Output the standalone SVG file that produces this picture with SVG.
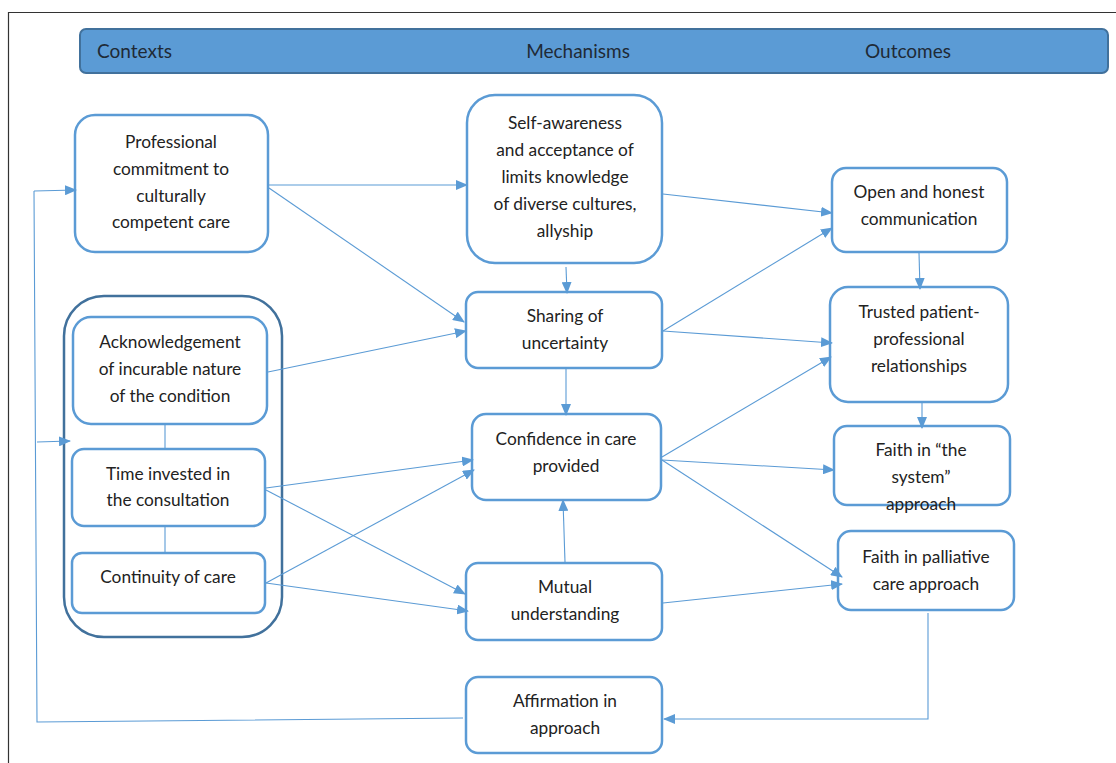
<svg xmlns="http://www.w3.org/2000/svg" width="1116" height="763" viewBox="0 0 1116 763">
<defs>
<marker id="ah" markerWidth="12" markerHeight="10" refX="11" refY="5" orient="auto" markerUnits="userSpaceOnUse">
<path d="M0,0 L12,5 L0,10 Z" fill="#5b9bd5"/>
</marker>
<style>
.box{fill:#fff;stroke:#5b9bd5;stroke-width:2.5}
.grp{fill:#fff;stroke:#41719c;stroke-width:2.5}
.t{font-family:Lato,"Liberation Sans",sans-serif;font-size:17.3px;fill:#222;text-anchor:middle}
.h{font-family:Lato,"Liberation Sans",sans-serif;font-size:19px;fill:#1f2a36}
.c{fill:none;stroke:#5b9bd5;stroke-width:1.1}
.ca{fill:none;stroke:#5b9bd5;stroke-width:1.1;marker-end:url(#ah)}
</style>
</defs>
<rect width="1116" height="763" fill="#fff"/>
<path d="M8.5,763 V12.5 H1116" fill="none" stroke="#333" stroke-width="1.2"/>

<g id="header">
<rect x="80" y="29" width="1028" height="44" rx="6" fill="#5b9bd5" stroke="#41719c" stroke-width="2"/>
<text class="h" x="97" y="58">Contexts</text>
<text class="h" x="578" y="58" text-anchor="middle">Mechanisms</text>
<text class="h" x="908" y="58" text-anchor="middle">Outcomes</text>
</g>

<g id="context-group">
<rect class="grp" x="64" y="296" width="218" height="341" rx="40"/>
</g>

<g id="professional-commitment">
<rect class="box" x="75" y="115" width="193" height="137" rx="20"/>
<text class="t" x="171" y="148">Professional</text>
<text class="t" x="171" y="175">commitment to</text>
<text class="t" x="171" y="202">culturally</text>
<text class="t" x="171" y="228">competent care</text>
</g>

<g id="self-awareness">
<rect class="box" x="467" y="95" width="195" height="168" rx="28"/>
<text class="t" x="565" y="129">Self-awareness</text>
<text class="t" x="565" y="156">and acceptance of</text>
<text class="t" x="565" y="183">limits knowledge</text>
<text class="t" x="565" y="210">of diverse cultures,</text>
<text class="t" x="565" y="237">allyship</text>
</g>

<g id="open-honest">
<rect class="box" x="832" y="168" width="175" height="84" rx="14"/>
<text class="t" x="919" y="198">Open and honest</text>
<text class="t" x="919" y="225">communication</text>
</g>

<g id="sharing-uncertainty">
<rect class="box" x="466" y="292" width="196" height="76" rx="12"/>
<text class="t" x="565" y="322">Sharing of</text>
<text class="t" x="565" y="349">uncertainty</text>
</g>

<g id="trusted-relationships">
<rect class="box" x="830" y="287" width="178" height="115" rx="18"/>
<text class="t" x="919" y="318">Trusted patient-</text>
<text class="t" x="919" y="345">professional</text>
<text class="t" x="919" y="372">relationships</text>
</g>

<g id="acknowledgement">
<rect class="box" x="73" y="317" width="194" height="107" rx="18"/>
<text class="t" x="170" y="348">Acknowledgement</text>
<text class="t" x="170" y="375">of incurable nature</text>
<text class="t" x="170" y="402">of the condition</text>
</g>

<g id="time-invested">
<rect class="box" x="72" y="449" width="193" height="77" rx="12"/>
<text class="t" x="168" y="480">Time invested in</text>
<text class="t" x="168" y="506">the consultation</text>
</g>

<g id="continuity">
<rect class="box" x="72" y="553" width="193" height="60" rx="10"/>
<text class="t" x="168" y="583">Continuity of care</text>
</g>

<g id="confidence">
<rect class="box" x="472" y="414" width="189" height="86" rx="14"/>
<text class="t" x="566" y="445">Confidence in care</text>
<text class="t" x="566" y="472">provided</text>
</g>

<g id="faith-system">
<rect class="box" x="834" y="426" width="176" height="79" rx="13"/>
<text class="t" x="921" y="456">Faith in “the</text>
<text class="t" x="921" y="483">system”</text>
<text class="t" x="921" y="510">approach</text>
</g>

<g id="faith-palliative">
<rect class="box" x="838" y="531" width="176" height="79" rx="13"/>
<text class="t" x="926" y="563">Faith in palliative</text>
<text class="t" x="926" y="590">care approach</text>
</g>

<g id="mutual-understanding">
<rect class="box" x="466" y="563" width="196" height="77" rx="12"/>
<text class="t" x="565" y="593">Mutual</text>
<text class="t" x="565" y="620">understanding</text>
</g>

<g id="affirmation">
<rect class="box" x="466" y="677" width="196" height="76" rx="12"/>
<text class="t" x="565" y="707">Affirmation in</text>
<text class="t" x="565" y="734">approach</text>
</g>

<g id="connectors">
<line class="c" x1="165" y1="425" x2="165" y2="448"/>
<line class="c" x1="165" y1="527" x2="165" y2="552"/>
<line class="ca" x1="268" y1="185" x2="467" y2="185"/>
<line class="ca" x1="269" y1="188" x2="464" y2="322"/>
<line class="ca" x1="663" y1="194" x2="832" y2="213"/>
<line class="ca" x1="566" y1="267" x2="567" y2="293"/>
<line class="ca" x1="663" y1="331" x2="832" y2="228"/>
<line class="ca" x1="663" y1="331" x2="832" y2="343"/>
<line class="ca" x1="919" y1="253" x2="920" y2="289"/>
<line class="ca" x1="566" y1="369" x2="566" y2="415"/>
<line class="ca" x1="268" y1="372" x2="466" y2="331"/>
<line class="ca" x1="266" y1="488" x2="473" y2="460"/>
<line class="ca" x1="266" y1="490" x2="465" y2="594"/>
<line class="ca" x1="266" y1="583" x2="474" y2="470"/>
<line class="ca" x1="266" y1="583" x2="468" y2="611"/>
<line class="ca" x1="662" y1="457" x2="831" y2="357"/>
<line class="ca" x1="662" y1="460" x2="834" y2="470"/>
<line class="ca" x1="662" y1="460" x2="842" y2="577"/>
<line class="ca" x1="565" y1="562" x2="563" y2="500"/>
<line class="ca" x1="663" y1="603" x2="842" y2="584"/>
<line class="ca" x1="922" y1="403" x2="922" y2="428"/>
<polyline class="ca" points="928,613 928,719 664,719"/>
<polyline class="c" points="463,718 37,722 34,191"/>
<line class="ca" x1="34" y1="191" x2="76" y2="190"/>
<line class="ca" x1="37" y1="442" x2="70" y2="441"/>
</g>
</svg>
